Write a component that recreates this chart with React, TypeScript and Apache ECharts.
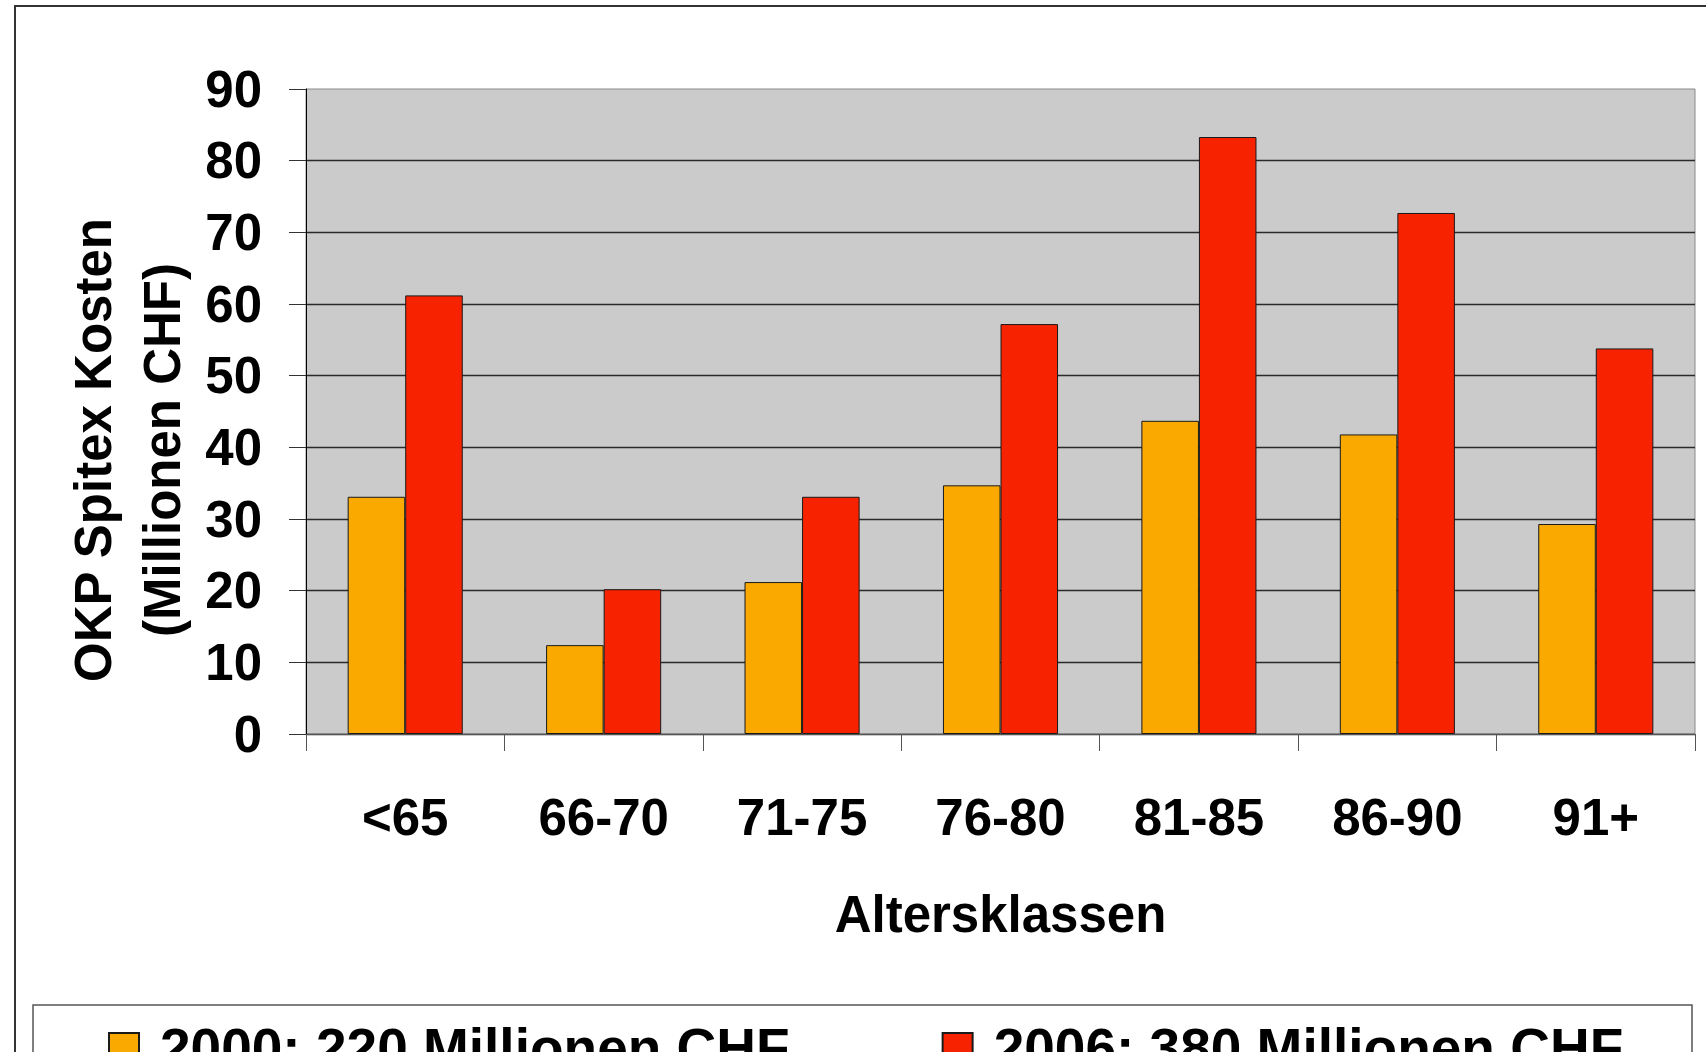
import React, { useEffect, useRef } from "react";
import * as echarts from "echarts";

const categories = ["<65", "66-70", "71-75", "76-80", "81-85", "86-90", "91+"];
const values2000 = [33.1, 12.4, 21.2, 34.7, 43.7, 41.8, 29.3];
const values2006 = [61.2, 20.2, 33.1, 57.2, 83.3, 72.7, 53.8];
const seriesNames = ["2000: 220 Millionen CHF", "2006: 380 Millionen CHF"];
const yTitle = "OKP Spitex Kosten\n(Millionen CHF)";
const xTitle = "Altersklassen";

const FONT = "'Liberation Sans', Arial, Helvetica, sans-serif";

export default function App() {
  const ref = useRef<HTMLDivElement>(null);
  useEffect(() => {
    if (!ref.current) return;
    const chart = echarts.init(ref.current, null, { renderer: "svg" });
    chart.setOption({
      animation: false,
      backgroundColor: "#ffffff",
      textStyle: { fontFamily: FONT },
      grid: {
        left: 306,
        right: 11,
        top: 89,
        bottom: 318,
        containLabel: false,
        show: true,
        backgroundColor: "#cbcbcb",
        borderColor: "#8a8a8a",
        borderWidth: 1,
      },
      xAxis: {
        type: "category",
        data: categories,
        name: xTitle,
        nameLocation: "middle",
        nameGap: 180,
        nameTextStyle: {
          fontSize: 51,
          fontWeight: "bold",
          color: "#000",
          fontFamily: FONT,
          verticalAlign: "middle",
        },
        axisLine: { show: true, lineStyle: { color: "#555", width: 1 } },
        axisTick: { show: true, length: 17, lineStyle: { color: "#555", width: 1 } },
        axisLabel: {
          interval: 0,
          margin: 83,
          verticalAlign: "middle",
          fontSize: 51,
          fontWeight: "bold",
          color: "#000",
          fontFamily: FONT,
        },
        splitLine: { show: false },
      },
      yAxis: {
        type: "value",
        min: 0,
        max: 90,
        interval: 10,
        axisLine: { show: true, lineStyle: { color: "#000", width: 1 } },
        axisTick: { show: true, length: 17, lineStyle: { color: "#333", width: 1 } },
        axisLabel: {
          margin: 44,
          fontSize: 51,
          fontWeight: "bold",
          color: "#000",
          fontFamily: FONT,
        },
        splitLine: {
          show: true,
          showMaxLine: false,
          lineStyle: { color: "#2a2a2a", width: 1.3 },
        },
      },
      legend: {
        data: seriesNames,
        left: 108,
        top: 1018,
        padding: 0,
        itemWidth: 30,
        itemHeight: 30,
        itemGap: 152,
        icon: "rect",
        textStyle: {
          fontSize: 55,
          fontWeight: "bold",
          color: "#000",
          fontFamily: FONT,
          lineHeight: 60,
          padding: [0, 0, 0, 16],
        },
      },
      graphic: [
        {
          type: "rect",
          silent: true,
          z: -1,
          shape: { x: 15, y: 6, width: 2000, height: 2000 },
          style: { fill: "none", stroke: "#333", lineWidth: 2 },
        },
        {
          type: "rect",
          silent: true,
          z: -1,
          shape: { x: 33, y: 1005, width: 1659, height: 200 },
          style: { fill: "none", stroke: "#555", lineWidth: 1.5 },
        },
        {
          type: "text",
          x: 128,
          y: 450,
          rotation: Math.PI / 2,
          style: {
            text: yTitle,
            fontSize: 51,
            fontWeight: "bold",
            fontFamily: FONT,
            fill: "#000",
            align: "center",
            verticalAlign: "middle",
            lineHeight: 69,
          },
        },
      ],
      series: [
        {
          name: seriesNames[0],
          type: "bar",
          data: values2000,
          barWidth: "29%",
          barGap: "0%",
          itemStyle: { color: "#F9A900", borderColor: "#1a1a1a", borderWidth: 1 },
        },
        {
          name: seriesNames[1],
          type: "bar",
          data: values2006,
          barWidth: "29%",
          barGap: "0%",
          itemStyle: { color: "#F72300", borderColor: "#1a1a1a", borderWidth: 1 },
        },
      ],
    });
    return () => chart.dispose();
  }, []);
  return (
    <div
      ref={ref}
      style={{ position: "fixed", left: 0, top: 0, width: 1706, height: 1052 }}
    />
  );
}
